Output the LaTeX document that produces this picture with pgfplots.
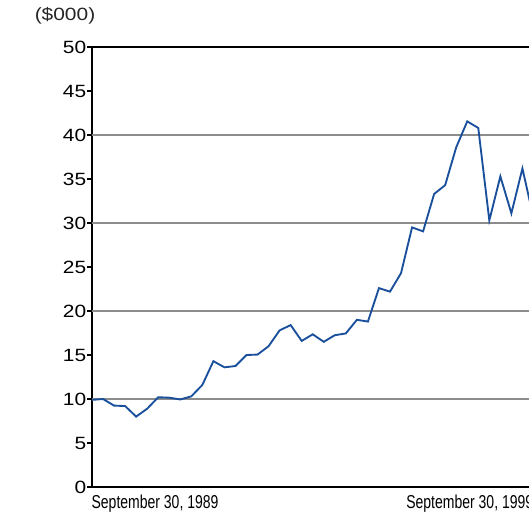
\documentclass[border=0pt]{standalone}
\usepackage{fontspec}
\setmainfont{Liberation Sans}
\newfontfamily\widefont[FakeStretch=1.18]{Liberation Sans}
\newfontfamily\narrowfont[FakeStretch=0.75]{Liberation Sans}
\usepackage{pgfplots}
\pgfplotsset{compat=1.18}
\definecolor{lineblue}{HTML}{1A4F9C}
\definecolor{gridgray}{HTML}{8C8C8C}
\begin{document}
\begin{tikzpicture}
\begin{axis}[
  at={(69pt,18.75pt)}, anchor=south west,
  scale only axis,
  width=331.1pt, height=330pt,
  xmin=0, xmax=40, ymin=0, ymax=50,
  xtick=\empty,
  ytick={0,5,...,50},
  tick align=outside,
  major tick length=3.6pt,
  ytick style={line width=0.8pt, black},
  yticklabel style={font=\widefont\fontsize{13.3}{13.3}\selectfont, inner sep=0.5pt},
  /pgf/number format/assume math mode=true,
  extra y ticks={10,20,30,40},
  extra y tick labels={},
  extra y tick style={grid=major, major tick length=0pt, grid style={gridgray, line width=0.9pt}},
  axis line style={line width=0.8pt, black},
  clip=true,
]
\addplot[lineblue, line width=1.4pt] coordinates {
(0,9.9) (1,10.0) (2,9.25) (3,9.2) (4,8.0) (5,8.9) (6,10.2) (7,10.15) (8,9.95) (9,10.3)
(10,11.6) (11,14.3) (12,13.6) (13,13.75) (14,15.0) (15,15.05) (16,16.0) (17,17.8) (18,18.4) (19,16.6)
(20,17.35) (21,16.5) (22,17.25) (23,17.45) (24,19.0) (25,18.8) (26,22.6) (27,22.2) (28,24.3) (29,29.5)
(30,29.05) (31,33.3) (32,34.3) (33,38.6) (34,41.55) (35,40.8) (36,30.3) (37,35.3) (38,31.1) (39,36.2)
(40,30.6)
};
\end{axis}
\node[anchor=north west, inner sep=0pt, font=\narrowfont\fontsize{14}{14}\selectfont] at (68.5pt,12.9pt) {September 30, 1989};
\node[anchor=north east, inner sep=0pt, font=\narrowfont\fontsize{14}{14}\selectfont] at (400.1pt,12.9pt) {September 30, 1999};
\node[font=\widefont\fontsize{13.3}{13.3}\selectfont, text=black!85, inner sep=0pt, anchor=north] at (48.75pt,378.5pt) {(\$000)};
\pgfresetboundingbox
\useasboundingbox (0,0) rectangle (396.75pt,384pt);
\end{tikzpicture}
\end{document}
